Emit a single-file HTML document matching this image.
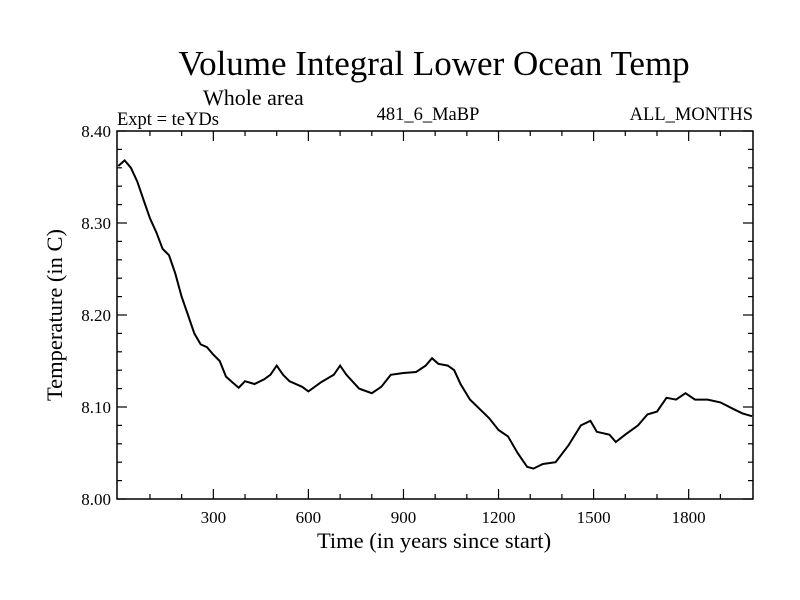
<!DOCTYPE html>
<html><head><meta charset="utf-8"><style>
body{margin:0;background:#fff;}
svg{display:block;font-family:"Liberation Serif",serif;}
</style></head><body>
<svg id="c" width="800" height="600">
<text x="434" y="75" font-size="35" text-anchor="middle">Volume Integral Lower Ocean Temp</text>
<text x="203" y="105" font-size="22">Whole area</text>
<text x="117" y="125" font-size="18.5">Expt = teYDs</text>
<text x="428" y="120" font-size="18.5" text-anchor="middle">481_6_MaBP</text>
<text x="753" y="120" font-size="18.5" text-anchor="end">ALL_MONTHS</text>
<text x="434" y="548" font-size="22.5" text-anchor="middle">Time (in years since start)</text>
<text transform="translate(62,315) rotate(-90)" font-size="22.5" text-anchor="middle">Temperature (in C)</text>
<g id="ticks"></g>
<path id="line" fill="none" stroke="#000" stroke-width="2"/>
<rect x="117" y="131" width="636" height="368" fill="none" stroke="#000" stroke-width="1.5"/>
</svg>
<script>
const years=[0,20,40,60,80,100,120,140,160,180,200,220,240,260,280,300,320,340,360,380,400,430,460,480,500,520,540,580,600,640,680,700,720,760,800,830,860,900,940,970,990,1010,1040,1060,1080,1110,1140,1170,1200,1230,1260,1290,1310,1340,1380,1420,1460,1490,1510,1550,1570,1600,1640,1670,1700,1730,1760,1790,1820,1860,1900,1940,1970,2000];
const temps=[8.362,8.368,8.360,8.345,8.325,8.305,8.290,8.272,8.265,8.245,8.220,8.200,8.180,8.168,8.165,8.157,8.150,8.133,8.127,8.121,8.128,8.125,8.130,8.135,8.145,8.135,8.128,8.122,8.117,8.127,8.135,8.145,8.135,8.120,8.115,8.122,8.135,8.137,8.138,8.145,8.153,8.147,8.145,8.140,8.125,8.108,8.098,8.088,8.075,8.068,8.050,8.035,8.033,8.038,8.040,8.058,8.080,8.085,8.073,8.070,8.062,8.070,8.080,8.092,8.095,8.110,8.108,8.115,8.108,8.108,8.105,8.098,8.093,8.090];
const xTickLabels=["300","600","900","1200","1500","1800"];
const yTickLabels=["8.00","8.10","8.20","8.30","8.40"];
const X0=117,X1=753,Y0=131,Y1=499,XMIN=-4,XMAX=2003,YMIN=8.0,YMAX=8.4;
const sx=v=>X0+(v-XMIN)/(XMAX-XMIN)*(X1-X0);
const sy=v=>Y1-(v-YMIN)/(YMAX-YMIN)*(Y1-Y0);
const NS="http://www.w3.org/2000/svg";
const g=document.getElementById('ticks');
function ln(x1,y1,x2,y2){const l=document.createElementNS(NS,'line');
l.setAttribute('x1',x1);l.setAttribute('y1',y1);l.setAttribute('x2',x2);l.setAttribute('y2',y2);
l.setAttribute('stroke','#000');l.setAttribute('stroke-width','1.2');


g.appendChild(l);}
function tx(x,y,s,a,n){const t=document.createElementNS(NS,'text');
t.setAttribute('x',x);t.setAttribute('y',y);t.setAttribute('font-size','17');t.setAttribute('text-anchor',a);t.textContent=s;


g.appendChild(t);}
for(let v=100;v<=1900;v+=100){const x=sx(v),L=(v%300===0)?10:5;ln(x,Y1,x,Y1-L);ln(x,Y0,x,Y0+L);}
xTickLabels.forEach(s=>tx(sx(+s),523,s,'middle','x-tick-label'));
for(let i=0;i<=20;i++){const v=YMIN+i*0.02,y=sy(v),L=(i%5===0)?10:5;ln(X0,y,X0+L,y);ln(X1,y,X1-L,y);}
yTickLabels.forEach(s=>tx(X0-6,sy(+s)+6,s,'end','y-tick-label'));
document.getElementById('line').setAttribute('d',years.map((y,i)=>(i?'L':'M')+sx(y).toFixed(1)+','+sy(temps[i]).toFixed(1)).join(''));
</script>
</body></html>
